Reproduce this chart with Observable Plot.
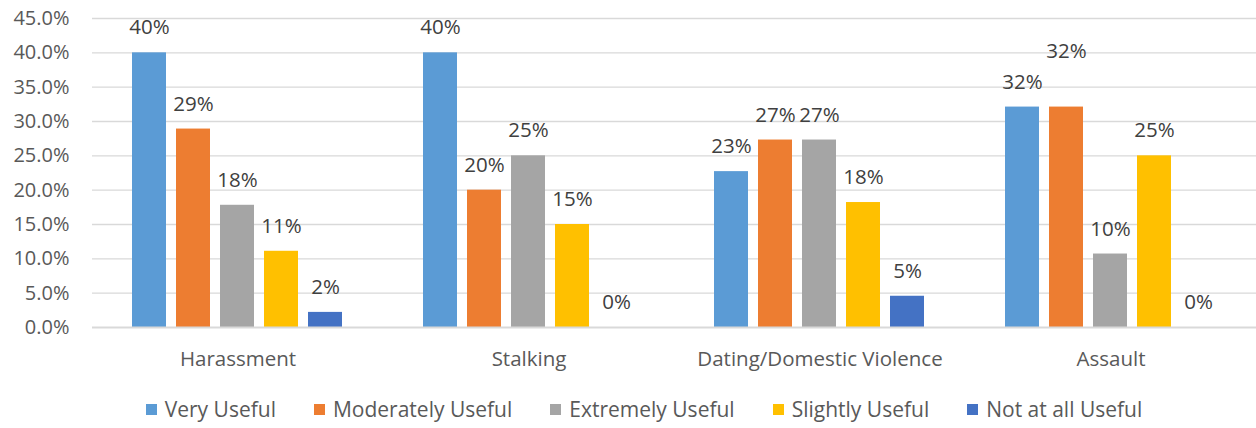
<!DOCTYPE html>
<html>
<head>
<meta charset="utf-8">
<script src="https://cdn.jsdelivr.net/npm/d3@7"></script>
<script src="https://cdn.jsdelivr.net/npm/@observablehq/plot@0.6"></script>
<style>
  html, body { margin: 0; padding: 0; background: #fff; }
  #chart svg { display: block; }
  #legend {
    display: flex; justify-content: center; align-items: center;
    height: 38px; padding-left: 32px; box-sizing: border-box; width: 1256px;
    font-family: "Open Sans", sans-serif; font-size: 21px; color: #595959;
  }
  #legend .item { display: flex; align-items: center; margin: 0 19px; white-space: nowrap; }
  #legend .sw { width: 11px; height: 11px; margin-right: 8px; }
</style>
</head>
<body>
<div id="chart"></div>
<div id="legend"></div>
<script>
const categories = ["Harassment", "Stalking", "Dating/Domestic Violence", "Assault"];
const series = ["Very Useful", "Moderately Useful", "Extremely Useful", "Slightly Useful", "Not at all Useful"];
const colors = ["#5B9BD5", "#ED7D31", "#A5A5A5", "#FFC000", "#4472C4"];

const veryUseful       = [0.400, 0.40, 0.227, 0.321];
const moderatelyUseful = [0.289, 0.20, 0.273, 0.321];
const extremelyUseful  = [0.178, 0.25, 0.273, 0.107];
const slightlyUseful   = [0.111, 0.15, 0.182, 0.250];
const notAtAllUseful   = [0.022, 0.00, 0.0455, 0.00];

const veryUsefulLabels       = ["40%", "40%", "23%", "32%"];
const moderatelyUsefulLabels = ["29%", "20%", "27%", "32%"];
const extremelyUsefulLabels  = ["18%", "25%", "27%", "10%"];
const slightlyUsefulLabels   = ["11%", "15%", "18%", "25%"];
const notAtAllUsefulLabels   = ["2%", "0%", "5%", "0%"];

const yTicks = [0, 0.05, 0.10, 0.15, 0.20, 0.25, 0.30, 0.35, 0.40, 0.45];

const valueSets = [veryUseful, moderatelyUseful, extremelyUseful, slightlyUseful, notAtAllUseful];
const labelSets = [veryUsefulLabels, moderatelyUsefulLabels, extremelyUsefulLabels, slightlyUsefulLabels, notAtAllUsefulLabels];

const data = [];
categories.forEach((c, ci) => {
  series.forEach((s, si) => {
    data.push({category: c, series: s, value: valueSets[si][ci], label: labelSets[si][ci]});
  });
});

const raised = d => d.category === "Assault" && d.series === "Moderately Useful";

const chart = Plot.plot({
  width: 1256,
  height: 390,
  marginTop: 18,
  marginBottom: 63,
  marginLeft: 91,
  marginRight: 0,
  style: {fontFamily: "Open Sans, sans-serif", fontSize: "20px", color: "#595959", background: "#fff"},
  fx: {domain: categories, padding: 0, label: null},
  x: {domain: series, paddingInner: 0.22, paddingOuter: 0.86, axis: null},
  y: {domain: [0, 0.45], label: null},
  color: {domain: series, range: colors},
  marks: [
    Plot.ruleY(yTicks.filter(t => t > 0), {stroke: "#d9d9d9", strokeWidth: 1.3}),
    Plot.barY(data, {fx: "category", x: "series", y: "value", fill: "series"}),
    Plot.ruleY([0], {stroke: "#d9d9d9", strokeWidth: 2}),
    Plot.text(data.filter(d => !raised(d)), {fx: "category", x: "series", y: "value", text: "label", dy: -25, fill: "#404040", fontSize: 20.5}),
    Plot.text(data.filter(raised), {fx: "category", x: "series", y: "value", text: "label", dy: -56, fill: "#404040", fontSize: 20.5}),
    Plot.axisY({ticks: yTicks, tickFormat: d3.format(".1%"), tickSize: 0, tickPadding: 23, label: null}),
    Plot.axisFx({anchor: "bottom", tickSize: 0, tickPadding: 24, label: null, fontSize: 20.5})
  ]
});
document.getElementById("chart").appendChild(chart);

const legend = document.getElementById("legend");
series.forEach((s, i) => {
  const item = document.createElement("div");
  item.className = "item";
  const sw = document.createElement("span");
  sw.className = "sw";
  sw.style.background = colors[i];
  const t = document.createElement("span");
  t.textContent = s;
  item.appendChild(sw);
  item.appendChild(t);
  legend.appendChild(item);
});
</script>
</body>
</html>
